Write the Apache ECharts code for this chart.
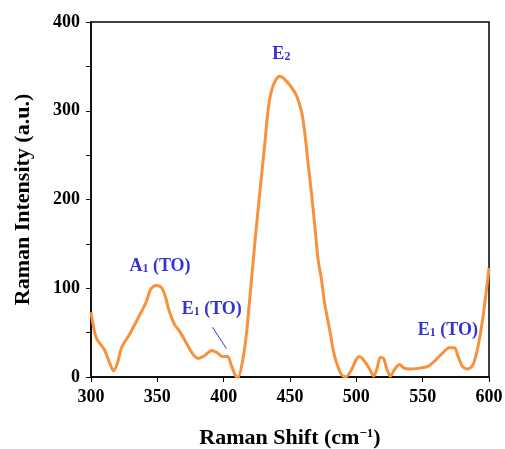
<!DOCTYPE html>
<html>
<head>
<meta charset="utf-8">
<script src="https://cdn.jsdelivr.net/npm/echarts@6/dist/echarts.min.js"></script>
<style>
    html, body { margin: 0; padding: 0; background: #fff; }
    #chart { width: 505px; height: 449px; }
</style>
</head>
<body>
<div id="chart"></div>
<script>
// raman spectrum
const ramanShift = [300, 304, 310, 314, 317, 320, 323, 329, 335, 341.5,
    345, 349, 353, 356, 359, 363, 366.6, 371.6, 376.7, 380.5,
    385.5, 391, 395.5, 399, 403, 405.6, 409, 411, 414, 417,
    419.4, 421, 424.7, 428.5, 431, 433.5, 436, 439.3, 442.3, 444.8,
    449.8, 454.9, 458.7, 461, 463.6, 466.2, 468.7, 471.2, 473.7, 476,
    479.8, 483.5, 488.6, 491.8, 496, 500, 502.4, 506, 510, 513,
    515.5, 518, 520.5, 523, 525.6, 529, 532.6, 536, 540, 547.7,
    554, 559, 565, 570, 574, 576.5, 580, 584, 588, 591.8,
    595.6, 599, 600]
const intensity = [73, 44, 31, 16, 7, 16, 33, 48, 65, 84,
    99, 103, 101, 91, 74, 59, 52, 39, 26, 21,
    24, 30, 27, 23, 23, 14, 1, 0, 16, 46,
    84, 110, 170, 226, 263, 301, 322, 335, 339, 337,
    329, 317, 299, 277, 241, 207, 170, 132, 110, 84,
    54, 24, 3, 0, 7, 20, 23, 18, 9, 1,
    9, 22, 21, 9, 1, 9, 14, 10, 9, 10,
    12, 18, 27, 33, 33, 24, 12, 9, 14, 35,
    69, 110, 123]

// peak labels
const peakNames = ['{b|E}{s|2}', '{b|A}{s|1}{b| (TO)}', '{b|E}{s|1}{b| (TO)}', '{b|E}{s|1}{b| (TO)}']
const peakX = [443.5, 352, 391, 569]
const peakY = [363, 125, 76, 53]
// leader line for the first E1 (TO)
const leaderFrom = [391.6, 56]
const leaderTo = [402.1, 32]

const serif = 'Liberation Serif'
const blue = '#3434d0'
const orange = '#f7913c'

const chart = echarts.init(document.getElementById('chart'))

const option = {
    animation: false,
    grid: {
        left: 91,
        right: 16,
        top: 22,
        bottom: 72,
        outerBoundsMode: 'none',
        show: true,
        borderColor: '#000',
        borderWidth: 1.5
    },
    xAxis: {
        type: 'value',
        min: 300,
        max: 600,
        interval: 50,
        name: 'Raman Shift (cm{sup|−1})',
        nameLocation: 'middle',
        nameGap: 50,
        nameTextStyle: {
            fontFamily: serif,
            fontWeight: 'bold',
            fontSize: 22,
            color: '#000',
            rich: {
                sup: { fontFamily: serif, fontWeight: 'bold', fontSize: 13, color: '#000', padding: [0, 0, 10, 0] }
            }
        },
        axisLine: { lineStyle: { color: '#000', width: 1.5 } },
        axisTick: { show: true, length: 5, lineStyle: { color: '#000' } },
        axisLabel: { fontFamily: serif, fontWeight: 'bold', fontSize: 18, color: '#000', margin: 11 },
        splitLine: { show: false }
    },
    yAxis: {
        type: 'value',
        min: 0,
        max: 400,
        interval: 50,
        name: 'Raman Intensity (a.u.)',
        nameLocation: 'middle',
        nameGap: 57,
        nameTextStyle: { fontFamily: serif, fontWeight: 'bold', fontSize: 22, color: '#000' },
        axisLine: { show: true, lineStyle: { color: '#000', width: 1.5 } },
        axisTick: { show: true, length: 5, lineStyle: { color: '#000' } },
        axisLabel: {
            fontFamily: serif,
            fontWeight: 'bold',
            fontSize: 18,
            color: '#000',
            margin: 11,
            formatter: v => (v % 100 === 0 ? v : '')
        },
        splitLine: { show: false }
    },
    series: [
        {
            type: 'line',
            data: ramanShift.map((x, i) => [x, intensity[i]]),
            smooth: 0.28,
            showSymbol: false,
            lineStyle: { color: orange, width: 3 },
            markLine: {
                silent: true,
                symbol: 'none',
                label: { show: false },
                lineStyle: { color: blue, width: 1, type: 'solid' },
                data: [[{ coord: leaderFrom }, { coord: leaderTo }]]
            }
        },
        {
            type: 'scatter',
            data: peakX.map((x, i) => [x, peakY[i]]),
            symbolSize: 0,
            silent: true,
            itemStyle: { opacity: 1 },
            label: {
                show: true,
                position: 'inside',
                formatter: p => peakNames[p.dataIndex],
                rich: {
                    b: { fontFamily: serif, fontWeight: 'bold', fontSize: 18, color: blue },
                    s: { fontFamily: serif, fontWeight: 'bold', fontSize: 12, color: blue, padding: [5, 0, 0, 0] }
                }
            }
        }
    ]
}

chart.setOption(option)
</script>
</body>
</html>
